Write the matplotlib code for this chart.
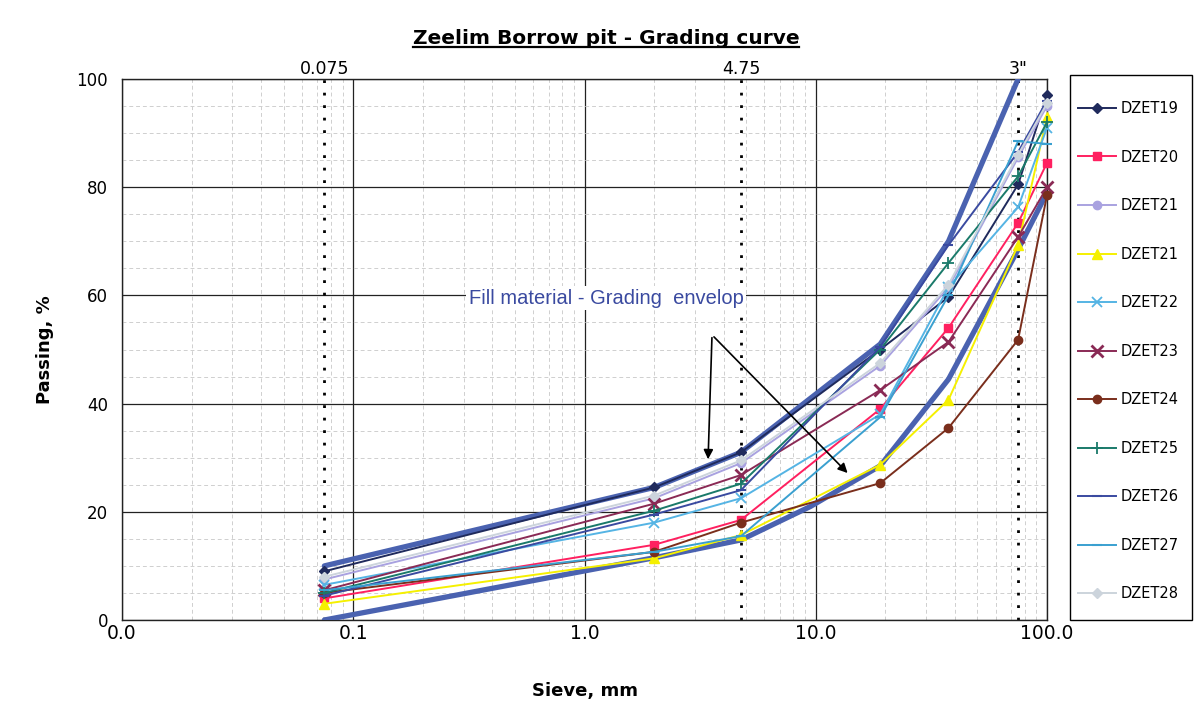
import matplotlib
matplotlib.use("Agg")
import matplotlib.pyplot as plt
from matplotlib.ticker import FixedLocator, NullFormatter
from matplotlib.lines import Line2D
from matplotlib.patches import Rectangle

# ---------------- data ----------------
sieves = [0.075, 2, 4.75, 19, 37.5, 75, 100]

dzet19 = [9.0, 24.5, 31.0, 50.0, 59.7, 80.5, 97.0]
dzet20 = [4.0, 13.9, 18.5, 39.0, 54.0, 73.4, 84.5]
dzet21a = [7.5, 22.5, 29.0, 47.0, 61.5, 85.5, 95.0]
dzet21b = [3.0, 11.4, 15.7, 28.7, 40.7, 69.3, 93.0]
dzet22 = [6.5, 18.0, 22.5, 38.0, 61.5, 76.3, 91.0]
dzet23 = [5.5, 21.5, 26.8, 42.5, 51.4, 70.8, 80.0]
dzet24 = [5.0, 12.6, 18.0, 25.3, 35.5, 51.8, 78.5]
dzet25 = [5.0, 20.2, 25.2, 50.0, 66.0, 82.0, 92.0]
dzet26 = [4.5, 19.5, 24.0, 50.5, 69.3, 86.5, 96.0]
dzet27 = [5.5, 12.6, 15.5, 37.5, 60.0, 88.5, 88.0]
dzet28 = [8.0, 23.0, 29.5, 47.5, 62.0, 86.0, 95.5]

series_names = ["DZET19", "DZET20", "DZET21", "DZET21", "DZET22", "DZET23",
                "DZET24", "DZET25", "DZET26", "DZET27", "DZET28"]
series_values = [dzet19, dzet20, dzet21a, dzet21b, dzet22, dzet23,
                 dzet24, dzet25, dzet26, dzet27, dzet28]

env_upper_x = [0.075, 2, 4.75, 9.5, 19, 37.5, 75]
env_upper_y = [10.0, 24.5, 31.0, 41.0, 51.0, 70.0, 100.0]
env_lower_x = [0.075, 2, 4.75, 9.5, 19, 37.5, 75, 100]
env_lower_y = [0.0, 11.5, 14.8, 21.0, 28.5, 44.5, 68.5, 79.0]

ref_sieves = [0.075, 4.75, 75]
ref_labels = ["0.075", "4.75", '3"']

x_ticks = [0.01, 0.1, 1, 10, 100]
x_tick_labels = ["0.0", "0.1", "1.0", "10.0", "100.0"]
y_ticks = [0, 20, 40, 60, 80, 100]

# ---------------- styles ----------------
styles = [
    dict(color="#1f2a5c", marker="D", ms=5),
    dict(color="#ff2060", marker="s", ms=6),
    dict(color="#a9a2e0", marker="o", ms=6),
    dict(color="#f5f000", marker="^", ms=7),
    dict(color="#55b4e4", marker="x", ms=7, mew=1.3),
    dict(color="#8a2a55", marker="x", ms=8, mew=2.0),
    dict(color="#7a2e1c", marker="o", ms=6),
    dict(color="#1a7a6a", marker="+", ms=8, mew=1.3),
    dict(color="#3a4aa0", marker="_", ms=7, mew=1.5),
    dict(color="#3aa0d0", marker="_", ms=7, mew=1.5),
    dict(color="#ccd4dc", marker="D", ms=5),
]

env_color = "#4a62b0"

fig = plt.figure(figsize=(11.96, 7.11), dpi=100)
ax = fig.add_axes([122 / 1196, 1 - 620 / 711, (1047 - 122) / 1196, (620 - 79) / 711])

ax.set_xscale("log")
ax.set_xlim(0.01, 100)
ax.set_ylim(0, 100)

# grid
ax.xaxis.set_minor_locator(FixedLocator([m * 10.0 ** e for e in range(-2, 2) for m in range(2, 10)]))
ax.xaxis.set_minor_formatter(NullFormatter())
ax.yaxis.set_minor_locator(FixedLocator(list(range(5, 100, 5))))
ax.grid(which="minor", color="#cfcfcf", linestyle=(0, (4, 3)), linewidth=0.7)
ax.grid(which="major", color="#222222", linestyle="-", linewidth=0.9)
ax.set_axisbelow(True)

ax.set_xticks(x_ticks)
ax.set_xticklabels(x_tick_labels)
ax.set_yticks(y_ticks)
ax.tick_params(which="both", length=0)
ax.tick_params(axis="y", labelsize=12, pad=10)
ax.tick_params(axis="x", labelsize=13.5, pad=3)
for s in ax.spines.values():
    s.set_color("#222222")
    s.set_linewidth(1.0)

# reference sieve lines
for xs, lab in zip(ref_sieves, ref_labels):
    ax.axvline(xs, color="black", linestyle=(0, (1, 3.5)), linewidth=2.0, zorder=2)
    ax.annotate(lab, xy=(xs, 100), xycoords="data", xytext=(0, 1),
                textcoords="offset points", ha="center", va="bottom", fontsize=12.5)

# envelopes
ax.plot(env_upper_x, env_upper_y, color=env_color, linewidth=3.8, zorder=3, solid_capstyle="round")
ax.plot(env_lower_x, env_lower_y, color=env_color, linewidth=3.8, zorder=3, solid_capstyle="round")

# series
handles = []
for name, vals, st in zip(series_names, series_values, styles):
    ln, = ax.plot(sieves, vals, color=st["color"], linewidth=1.4, marker=st["marker"],
                  markersize=st["ms"], markeredgewidth=st.get("mew", 1.0),
                  markerfacecolor=st["color"], markeredgecolor=st["color"],
                  label=name, zorder=4, clip_on=False)
    handles.append(ln)

# annotation
ax.text(1.24, 59.5, "Fill material - Grading  envelop", color="#3a4aa0", fontsize=14.5,
        family="Liberation Sans", ha="center", va="center",
        bbox=dict(facecolor="white", edgecolor="none", pad=2), zorder=6)
arrow_kw = dict(arrowstyle="-|>", color="black", lw=1.2, mutation_scale=14)
ax.annotate("", xy=(3.42, 29.2), xytext=(3.56, 52.7), arrowprops=arrow_kw, zorder=6)
ax.annotate("", xy=(14.0, 26.8), xytext=(3.56, 52.7), arrowprops=arrow_kw, zorder=6)

ax.set_xlabel("Sieve, mm", fontsize=13, fontweight="bold", labelpad=28)
ax.set_ylabel("Passing, %", fontsize=13, fontweight="bold", labelpad=16)

# title with underline
title = fig.text(606 / 1196, 1 - 38 / 711, "Zeelim Borrow pit - Grading curve",
                 ha="center", va="center", fontsize=14.5, fontweight="bold", color="black")
fig.canvas.draw()
bb = title.get_window_extent(renderer=fig.canvas.get_renderer())
inv = fig.transFigure.inverted()
(x0, y0), (x1, y1) = inv.transform([(bb.x0, bb.y0), (bb.x1, bb.y1)])
fig.add_artist(Line2D([x0, x1], [y0 + 0.001, y0 + 0.001], color="black", linewidth=1.6,
                      transform=fig.transFigure))

# legend (frameless) + manual frame
leg = fig.legend(handles=handles, labels=series_names, loc="upper left",
                 bbox_to_anchor=(1078 / 1196, 1 - 101 / 711),
                 frameon=False, fontsize=10.5,
                 labelspacing=2.3, handlelength=2.6, handletextpad=0.3,
                 borderaxespad=0, borderpad=0)
fig.add_artist(Rectangle((1070 / 1196, 1 - 620 / 711), 122 / 1196, (620 - 75) / 711,
                         transform=fig.transFigure, fill=False, edgecolor="black", linewidth=1.0))

fig.savefig("out.png", dpi=100)
